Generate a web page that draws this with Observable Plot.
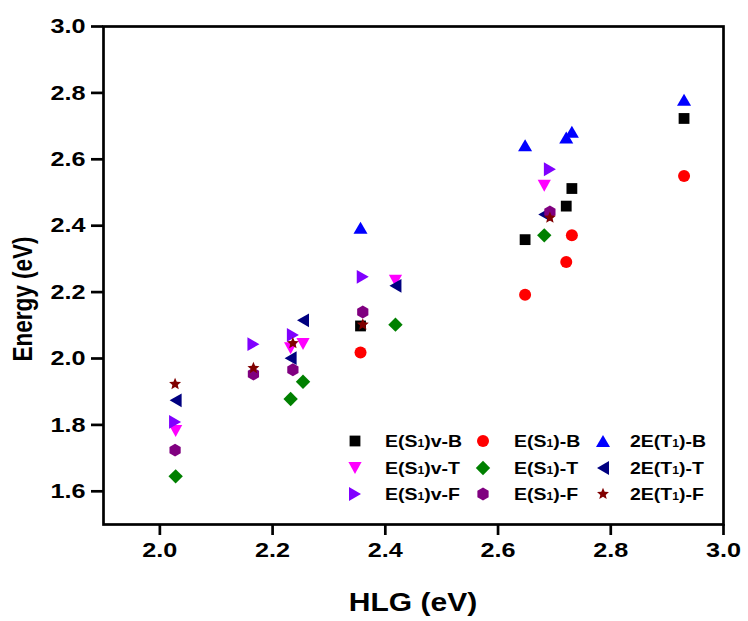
<!DOCTYPE html>
<html>
<head>
<meta charset="utf-8">
<script src="https://cdn.jsdelivr.net/npm/d3@7"></script>
<script src="https://cdn.jsdelivr.net/npm/@observablehq/plot@0.6"></script>
<style>
  body { margin: 0; background: #fff; }
  #wrap { position: relative; width: 748px; height: 621px; font-family: "Liberation Sans", Arial, sans-serif; font-weight: bold; color: #000; }
  #wrap svg.plot { position: absolute; left: 0; top: 0; }
  .ttl { position: absolute; white-space: nowrap; line-height: 1; }
  .lg { position: absolute; white-space: nowrap; font-size: 16.5px; line-height: 1; transform-origin: 0 50%; transform: translateY(-50%) scaleX(1.18); }
  .lg sub { font-size: 0.62em; vertical-align: 0.02em; }
  .lgs { position: absolute; }
</style>
</head>
<body>
<div id="wrap"></div>
<script>
// ---- data ----
const xTicks = [2.0, 2.2, 2.4, 2.6, 2.8, 3.0];
const yTicks = [1.6, 1.8, 2.0, 2.2, 2.4, 2.6, 2.8, 3.0];

// HLG values for each functional set
const hlgB = [2.356, 2.648, 2.721, 2.731, 2.930];
const hlgT = [2.028, 2.232, 2.254, 2.418, 2.682];
const hlgF = [2.027, 2.166, 2.236, 2.360, 2.692];

const eS1vB = [2.098, 2.358, 2.459, 2.512, 2.723];
const eS1B  = [2.018, 2.192, 2.291, 2.371, 2.550];
const e2T1B = [2.394, 2.642, 2.666, 2.683, 2.779];

const eS1vT = [1.782, 2.031, 2.044, 2.234, 2.520];
const eS1T  = [1.645, 1.878, 1.930, 2.102, 2.371];
const e2T1T = [1.874, 2.001, 2.115, 2.219, 2.434];

const eS1vF = [1.809, 2.043, 2.071, 2.246, 2.570];
const eS1F  = [1.724, 1.953, 1.966, 2.140, 2.441];
const e2T1F = [1.923, 1.971, 2.046, 2.102, 2.424];

const seriesNames = ["E(S1)v-B", "E(S1)-B", "2E(T1)-B",
                     "E(S1)v-T", "E(S1)-T", "2E(T1)-T",
                     "E(S1)v-F", "E(S1)-F", "2E(T1)-F"];

// ---- symbols ----
const R = s => Math.sqrt(s / Math.PI);
const symSquare = {draw(c, s) { const r = R(s) * 0.9; c.rect(-r, -r, 2 * r, 2 * r); }};
const symCircle = {draw(c, s) { const r = R(s); c.moveTo(r, 0); c.arc(0, 0, r, 0, 2 * Math.PI); }};
const symUp = {draw(c, s) { const r = R(s), w = 1.17 * r; c.moveTo(0, -r); c.lineTo(w, r); c.lineTo(-w, r); c.closePath(); }};
const symDown = {draw(c, s) { const r = R(s), w = 1.1 * r; c.moveTo(0, r); c.lineTo(w, -r); c.lineTo(-w, -r); c.closePath(); }};
const symLeft = {draw(c, s) { const r = R(s), w = 1.15 * r; c.moveTo(-r, 0); c.lineTo(r, -w); c.lineTo(r, w); c.closePath(); }};
const symRight = {draw(c, s) { const r = R(s), w = 1.15 * r; c.moveTo(r, 0); c.lineTo(-r, -w); c.lineTo(-r, w); c.closePath(); }};
const symDiamond = {draw(c, s) { const r = R(s) * 1.2; c.moveTo(0, -r); c.lineTo(r, 0); c.lineTo(0, r); c.lineTo(-r, 0); c.closePath(); }};
const symHex = {draw(c, s) { const r = R(s) * 1.08; for (let k = 0; k < 6; k++) { const a = -Math.PI / 2 + k * Math.PI / 3; const px = r * Math.cos(a), py = r * Math.sin(a); k ? c.lineTo(px, py) : c.moveTo(px, py); } c.closePath(); }};
const symStar = {draw(c, s) { const ro = R(s) * 1.05, ri = ro * 0.45; for (let k = 0; k < 10; k++) { const a = -Math.PI / 2 + k * Math.PI / 5; const rr = k % 2 ? ri : ro; const px = rr * Math.cos(a), py = rr * Math.sin(a); k ? c.lineTo(px, py) : c.moveTo(px, py); } c.closePath(); }};

const series = [
  {x: hlgB, y: eS1vB, sym: symSquare,  color: "#000000"},
  {x: hlgB, y: eS1B,  sym: symCircle,  color: "#ff0000"},
  {x: hlgB, y: e2T1B, sym: symUp,      color: "#0000ff"},
  {x: hlgT, y: eS1vT, sym: symDown,    color: "#ff00ff"},
  {x: hlgT, y: eS1T,  sym: symDiamond, color: "#008000"},
  {x: hlgT, y: e2T1T, sym: symLeft,    color: "#000080"},
  {x: hlgF, y: eS1vF, sym: symRight,   color: "#8000ff"},
  {x: hlgF, y: eS1F,  sym: symHex,     color: "#800080"},
  {x: hlgF, y: e2T1F, sym: symStar,    color: "#800000"}
];

const fmt = d => d.toFixed(1);

const chart = Plot.plot({
  width: 748,
  height: 621,
  marginLeft: 103,
  marginRight: 25,
  marginTop: 26,
  marginBottom: 97,
  style: {fontFamily: "Liberation Sans, Arial, sans-serif", fontWeight: "bold", color: "#000", background: "transparent"},
  x: {domain: [1.9, 3.0]},
  y: {domain: [1.5, 3.0]},
  marks: [
    Plot.frame({stroke: "#000", strokeWidth: 2.7}),
    Plot.axisX({ticks: xTicks, tickFormat: fmt, tickSize: 11, tickPadding: 7, fontSize: 21, strokeWidth: 2.7, label: null}),
    Plot.axisY({ticks: yTicks, tickFormat: fmt, tickSize: 12, tickPadding: 6, fontSize: 21, strokeWidth: 2.7, label: null}),
    ...series.map(s => Plot.dot(s.y, {x: s.x, y: s.y, r: 6, symbol: s.sym, fill: s.color, stroke: "none"}))
  ]
});
chart.classList.add("plot");
// the reference's lettering is horizontally widened: widen tick labels around their anchors
d3.select(chart).selectAll('g[aria-label$="tick label"] text').each(function () {
  const t = this.getAttribute("transform") || "";
  this.setAttribute("transform", t + " scale(1.2,1)");
});

const wrap = document.getElementById("wrap");
wrap.appendChild(chart);

// axis titles
const xt = document.createElement("div");
xt.className = "ttl";
xt.textContent = "HLG (eV)";
xt.style.fontSize = "25px";
xt.style.left = "413px"; xt.style.top = "590px"; xt.style.transform = "translateX(-50%) scaleX(1.2)";
wrap.appendChild(xt);

const yt = document.createElement("div");
yt.className = "ttl";
yt.textContent = "Energy (eV)";
yt.style.fontSize = "22.5px";
yt.style.left = "24px"; yt.style.top = "299px"; yt.style.transform = "translate(-50%,-50%) scaleX(1.22) rotate(-90deg)";
wrap.appendChild(yt);

// legend (3 columns x 3 rows)
const colSym = [355, 483, 603];
const colTxt = [385, 514, 630];
const rowY = [441, 468, 494];
series.forEach((s, i) => {
  const row = Math.floor(i / 3), col = i % 3;
  const p = d3.path();
  s.sym.draw(p, 36 * Math.PI);
  const svg = d3.create("svg").attr("class", "lgs").attr("width", 20).attr("height", 20)
    .attr("viewBox", "-10 -10 20 20")
    .style("left", (colSym[col] - 10) + "px").style("top", (rowY[row] - 10) + "px");
  svg.append("path").attr("d", p.toString()).attr("fill", s.color);
  wrap.appendChild(svg.node());
  const t = document.createElement("div");
  t.className = "lg";
  t.style.left = colTxt[col] + "px";
  t.style.top = rowY[row] + "px";
  const name = seriesNames[i];
  const k = name.indexOf("1");
  t.innerHTML = name.slice(0, k) + "<sub>1</sub>" + name.slice(k + 1);
  wrap.appendChild(t);
});
</script>
</body>
</html>
